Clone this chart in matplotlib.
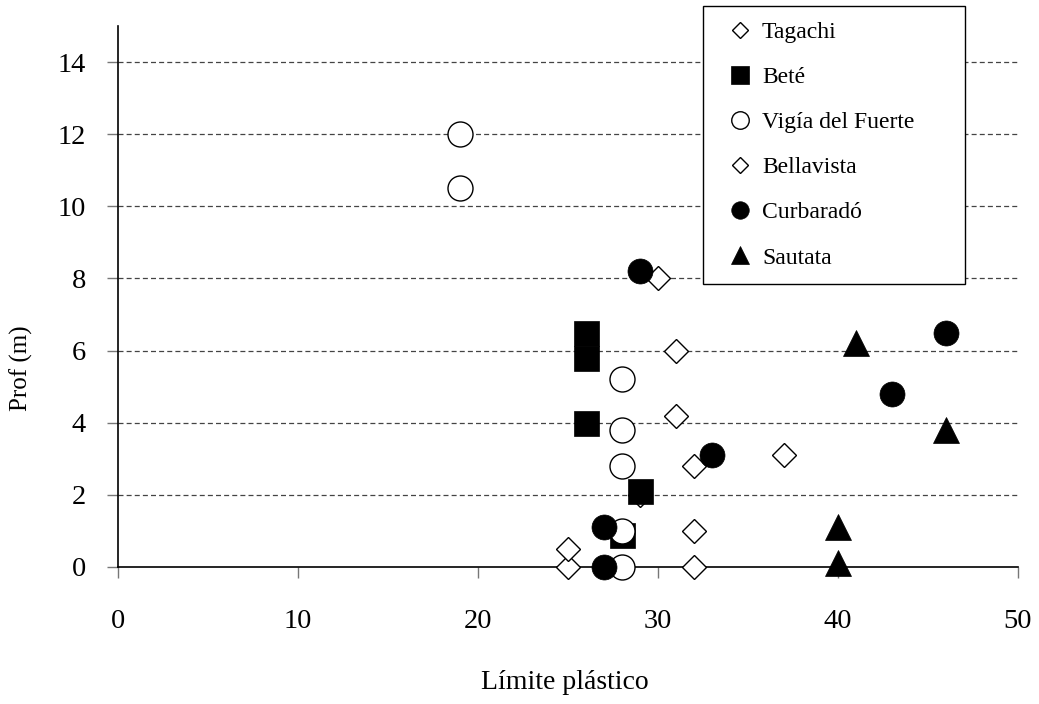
import matplotlib
matplotlib.use('Agg')
import matplotlib.pyplot as plt

# --- data ---
tagachi_x = [25, 25, 29, 30]
tagachi_y = [0.0, 0.5, 2.0, 8.0]

bete_x = [26, 26, 26, 29, 28]
bete_y = [6.5, 5.8, 4.0, 2.1, 0.9]

vigia_x = [19, 19, 28, 28, 28, 28, 28]
vigia_y = [12.0, 10.5, 5.2, 3.8, 2.8, 1.0, 0.0]

bellavista_x = [31, 31, 32, 37, 32, 32]
bellavista_y = [6.0, 4.2, 2.8, 3.1, 1.0, 0.0]

curbarado_x = [29, 33, 27, 27, 46, 43]
curbarado_y = [8.2, 3.1, 1.1, 0.0, 6.5, 4.8]

sautata_x = [41, 46, 40, 40]
sautata_y = [6.2, 3.8, 1.1, 0.1]

x_ticks = [0, 10, 20, 30, 40, 50]
y_ticks = [0, 2, 4, 6, 8, 10, 12, 14]

plt.rcParams['font.family'] = ['Liberation Serif', 'DejaVu Serif']

fig = plt.figure(figsize=(10.39, 7.04), dpi=100)
ax = fig.add_axes([118 / 1039, 1 - 567 / 704, 900 / 1039, 541 / 704])

ax.set_xlim(0, 50)
ax.set_ylim(0, 15)
ax.set_xticks(x_ticks)
ax.set_yticks(y_ticks)
ax.tick_params(axis='both', direction='out', length=8, width=1, color='#777777',
               labelsize=20.5)
ax.tick_params(axis='y', pad=15)
ax.tick_params(axis='x', pad=22)

for s in ['top', 'right']:
    ax.spines[s].set_visible(False)
for s in ['left', 'bottom']:
    ax.spines[s].set_linewidth(1.2)

# dashed grid lines (skip the zero line, that's the axis)
for yv in y_ticks[1:]:
    ax.axhline(yv, color='#444444', linestyle=(0, (4, 2.5)), linewidth=0.9, zorder=1)

kw = dict(linestyle='none', markeredgecolor='black', clip_on=False, zorder=3)
ax.plot(tagachi_x, tagachi_y, marker='D', markersize=12, markerfacecolor='white',
        markeredgewidth=1, label='Tagachi', **kw)
ax.plot(bete_x, bete_y, marker='s', markersize=18, markerfacecolor='black',
        markeredgewidth=0.5, label='Beté', **kw)
ax.plot(vigia_x, vigia_y, marker='o', markersize=18, markerfacecolor='white',
        markeredgewidth=1, label='Vigía del Fuerte', **kw)
ax.plot(bellavista_x, bellavista_y, marker='D', markersize=12, markerfacecolor='white',
        markeredgewidth=1, label='Bellavista', **kw)
ax.plot(curbarado_x, curbarado_y, marker='o', markersize=18, markerfacecolor='black',
        markeredgewidth=0.5, label='Curbaradó', **kw)
ax.plot(sautata_x, sautata_y, marker='^', markersize=19, markerfacecolor='black',
        markeredgewidth=0.5, label='Sautata', **kw)

ax.set_xlabel('Límite plástico', fontsize=20)
ax.set_ylabel('Prof (m)', fontsize=18)
ax.xaxis.set_label_coords(0.496, -0.19)
ax.yaxis.set_label_coords(-0.094, 0.368)

# legend box spans x 703..965, y 5..280 px in the reference
leg = ax.legend(loc='upper left',
                bbox_to_anchor=(703 / 1039, 1 - 280 / 704, 262 / 1039, 274 / 704),
                bbox_transform=fig.transFigure, mode='expand',
                markerscale=0.7, fontsize=17,
                frameon=True, fancybox=False, edgecolor='black', framealpha=1,
                handlelength=1.85, handletextpad=0.0, labelspacing=1.0,
                borderpad=0.65, borderaxespad=0)
leg.get_frame().set_linewidth(1)
leg.set_zorder(5)

fig.savefig('out.png', dpi=100)
